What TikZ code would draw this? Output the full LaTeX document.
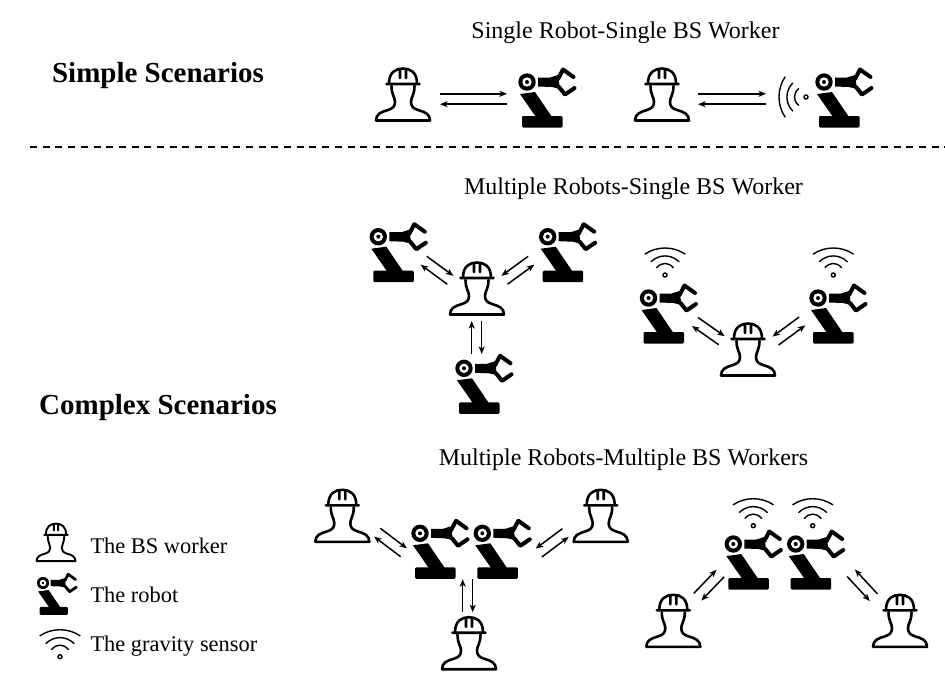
\documentclass[tikz,border=0pt]{standalone}
\usepackage{fontspec}
\setmainfont{Liberation Serif}
\usetikzlibrary{arrows.meta,calc}

\tikzset{
    flow/.style={-{Stealth[length=7.5pt,width=6pt,inset=2pt]},line width=1.5pt},
    headline/.style={font=\fontsize{24}{28}\selectfont},
    scenario/.style={font=\fontsize{29}{34}\selectfont\bfseries},
    legendtext/.style={font=\fontsize{22.4}{26}\selectfont,anchor=west},
    worker/.pic={
        \draw[line width=#1,line join=round,line cap=round]
            (-27,52.5) .. controls (-27,46) and (-22,44) .. (-15,42)
            .. controls (-10,40.5) and (-8,38) .. (-8,34)
            .. controls (-8,29) and (-11.5,27) .. (-11.5,18)
            (11.5,18) .. controls (11.5,27) and (8,29) .. (8,34)
            .. controls (8,38) and (10,40.5) .. (15,42)
            .. controls (22,44) and (27,46) .. (27,52.5) -- (-27,52.5);
        \draw[line width=#1,line join=round,line cap=round]
            (-14,15.5) .. controls (-14,4) and (-7,0.5) .. (0,0.5)
            .. controls (7,0.5) and (14,4) .. (14,15.5)
            (-16.5,16) -- (16.5,16)
            (-3,2) -- (-3,10) (3,2) -- (3,10);
    },
    pics/worker/.default=2.6pt,
    robot/.pic={
        \fill (-7,12) -- (8,10) -- (25,35) -- (9,35) -- cycle;
        \fill[rounded corners=1.2] (-5,34) rectangle (35.5,45.5);
        \fill[white] (0,0) circle (10.5);
        \fill (0,0) circle (8.7);
        \fill[white] (0,0) circle (4.7);
        \fill (0,0) circle (2);
        \fill (11,-4.5) -- (23,-4.5) -- (31,-7) -- (33,7) -- (25,5) -- (11,4.5) -- cycle;
        \draw[line width=#1,line join=round,line cap=round]
            (31,-3) -- (36,-12.5) -- (46.5,-5)
            (32,5) -- (38,12.5) -- (47.5,6);
    },
    pics/robot/.default=4pt,
    sensor/.pic={
        \draw[line width=1.4pt,line cap=round]
            (0,0) circle (2)
            (-8.3,-7.3) .. controls (-3.5,-13) and (3.5,-13) .. (8.3,-7.3)
            (-14,-13.3) .. controls (-6,-21) and (6,-21) .. (14,-13.3)
            (-20,-21) .. controls (-8,-29) and (8,-29) .. (20,-21);
    },
}

% two parallel arrows of opposite direction between two ends
\newcommand{\flowpair}[3]{
        \draw[flow] ($(#1)!#3pt!90:(#2)$) -- ($(#2)!#3pt!-90:(#1)$);
        \draw[flow] ($(#2)!#3pt!90:(#1)$) -- ($(#1)!#3pt!-90:(#2)$);
}

\begin{document}
\begin{tikzpicture}[x=1pt,y=-1pt]
        \useasboundingbox (0,0) rectangle (945,686);

        % Titles
        \node[scenario] (simple) at (158,75.5) {Simple Scenarios};
        \node[scenario] (complex) at (158,407.5) {Complex Scenarios};
        \node[headline] (single) at (625.5,32.5) {Single Robot-Single BS Worker};
        \node[headline] (multi) at (633.5,188.5) {Multiple Robots-Single BS Worker};
        \node[headline] (multimulti) at (623.5,459.5) {Multiple Robots-Multiple BS Workers};

        \coordinate (sepL) at (30,147);
        \coordinate (sepR) at (945,147);
        \draw[line width=1.5pt,dash pattern=on 7pt off 5.7pt] (sepL) -- (sepR);

        % Simple scenarios
        \pic (w1) at (403,68) {worker};
        \pic (r1) at (527,82) {robot};
        \coordinate (w1e) at (440,99);
        \coordinate (r1e) at (507,99);
        \flowpair{w1e}{r1e}{5.2}

        \pic (w2) at (662,68) {worker};
        \pic (r2) at (824,82) {robot};
        \pic[rotate=90] (s2) at (806,97) {sensor};
        \coordinate (w2e) at (698,99);
        \coordinate (s2e) at (766,99);
        \flowpair{w2e}{s2e}{5.2}

        % Multiple robots, single worker
        \pic (w3) at (477,262) {worker};
        \pic (r3a) at (378.3,236.7) {robot};
        \pic (r3b) at (547.7,236.7) {robot};
        \pic (r3c) at (464,368.3) {robot};
        \coordinate (r3ae) at (423.7,260.5);
        \coordinate (w3ae) at (450.3,280);
        \coordinate (r3be) at (531.2,260.5);
        \coordinate (w3be) at (504.5,280);
        \coordinate (w3ce) at (476.7,321);
        \coordinate (r3ce) at (476.7,354);
        \flowpair{r3ae}{w3ae}{5.2}
        \flowpair{r3be}{w3be}{-5.2}
        \flowpair{w3ce}{r3ce}{5}

        \pic (w4) at (748,323) {worker};
        \pic (r4a) at (648.5,298) {robot};
        \pic (r4b) at (818,298) {robot};
        \pic (s4a) at (665,275) {sensor};
        \pic (s4b) at (833.3,275) {sensor};
        \coordinate (r4ae) at (695,321.7);
        \coordinate (w4ae) at (721.7,340.5);
        \coordinate (r4be) at (802.2,321.2);
        \coordinate (w4be) at (775.5,340.8);
        \flowpair{r4ae}{w4ae}{5.2}
        \flowpair{r4be}{w4be}{-5.2}

        % Multiple robots, multiple workers
        \pic (w5a) at (342.3,489.3) {worker};
        \pic (w5b) at (600.7,489.3) {worker};
        \pic (w5c) at (469,616.7) {worker};
        \pic (r5a) at (420,533.3) {robot};
        \pic (r5b) at (482.3,533.3) {robot};
        \coordinate (w5ae) at (377.2,532.5);
        \coordinate (r5ae) at (403.8,552.5);
        \coordinate (w5be) at (565.5,532.8);
        \coordinate (r5be) at (538.8,552.8);
        \coordinate (r5ce) at (467.7,579.2);
        \coordinate (w5ce) at (467.7,612.2);
        \flowpair{w5ae}{r5ae}{5.2}
        \flowpair{w5be}{r5be}{-5.2}
        \flowpair{r5ce}{w5ce}{5}

        \pic (w6a) at (673.3,594.3) {worker};
        \pic (w6b) at (900,594.3) {worker};
        \pic (r6a) at (733.3,544) {robot};
        \pic (r6b) at (795.7,544) {robot};
        \pic (s6a) at (753.3,525.7) {sensor};
        \pic (s6b) at (812.7,525.7) {sensor};
        \coordinate (w6ae) at (697.5,597);
        \coordinate (r6ae) at (720.3,573.3);
        \coordinate (w6be) at (873.7,597.5);
        \coordinate (r6be) at (851,573);
        \flowpair{w6ae}{r6ae}{5.2}
        \flowpair{w6be}{r6be}{-5.2}

        % Legend
        \pic[scale=0.72] (lw) at (56,523.3) {worker=1.9pt};
        \pic[scale=0.7] (lr) at (43,583) {robot=2.8pt};
        \pic (ls) at (60,656.7) {sensor};
        \node[legendtext] (lwt) at (87,545.5) {The BS worker};
        \node[legendtext] (lrt) at (87,594.5) {The robot};
        \node[legendtext] (lst) at (87,646.5) {The gravity sensor};
    \end{tikzpicture}
\end{document}
